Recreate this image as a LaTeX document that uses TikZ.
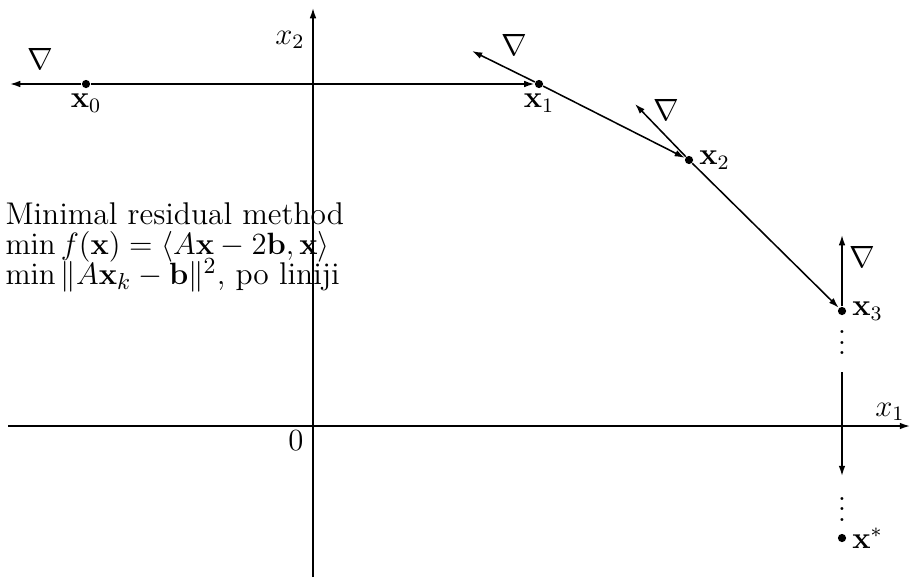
\documentclass[tikz,border=0pt]{standalone}
\usepackage{tikz}
\usepackage{amsmath}
\usepackage{amssymb}
\usetikzlibrary{arrows.meta, positioning}
\newcommand{\mrmfont}{\fontsize{12.25}{11.7}\selectfont\lineskiplimit=-5pt\relax}

\begin{document}
\begin{tikzpicture}[x=0.39pt, y=-0.39pt, font=\large,
    pnt/.style={circle, fill, inner sep=0pt, minimum size=3.2pt},
    lbl/.style={inner sep=1pt},
    vec/.style={-{Latex[length=4pt, width=2.6pt]}, line width=0.6pt}]
  \useasboundingbox (0,0) rectangle (911,577);

  % Axes
  \coordinate (ax1l) at (8,426);
  \coordinate (ax1r) at (910,426);
  \coordinate (ax2b) at (313,577);
  \coordinate (ax2t) at (313,8);
  \draw[vec] (ax1l) -- (ax1r);
  \draw[vec] (ax2b) -- (ax2t);
  \node (x1lab) at (890,412) {$x_1$};
  \node (x2lab) at (290,40) {$x_2$};
  \node (orig) at (296,441) {$0$};

  % Iterates
  \node[pnt] (x0) at (86,84) {};
  \node[pnt] (x1) at (539,84) {};
  \node[pnt] (x2) at (689,160) {};
  \node[pnt] (x3) at (842,311) {};
  \node[pnt] (xs) at (842,538) {};
  \node[lbl, below=1pt of x0] (x0lab) {$\mathbf{x}_0$};
  \node[lbl, below=1pt of x1] (x1lab) {$\mathbf{x}_1$};
  \node[lbl, right=1pt of x2] (x2lab) {$\mathbf{x}_2$};
  \node[lbl, right=1pt of x3] (x3lab) {$\mathbf{x}_3$};
  \node[lbl, right=1pt of xs] (xslab) {$\mathbf{x}^*$};

  % Gradients
  \coordinate (g0) at (10,84);
  \coordinate (g1) at (472,51);
  \coordinate (g2) at (635,104);
  \coordinate (g3) at (842,235);
  \draw[vec] (x0) -- (g0);
  \draw[vec] (x1) -- (g1);
  \draw[vec] (x2) -- (g2);
  \draw[vec] (x3) -- (g3);
  \node (n0) at (40,59) {$\nabla$};
  \node (n1) at (514,45) {$\nabla$};
  \node (n2) at (666,110) {$\nabla$};
  \node (n3) at (862,257) {$\nabla$};

  % Steps
  \draw[vec] (x0) -- (x1);
  \draw[vec] (x1) -- (x2);
  \draw[vec] (x2) -- (x3);
  \node[anchor=base, inner sep=0pt] (dots3) at (842,354.5) {$\vdots$};
  \coordinate (c0) at (842,372);
  \coordinate (c1) at (842,476);
  \draw[vec] (c0) -- (c1);
  \node[anchor=base, inner sep=0pt] (dotss) at (842,521) {$\vdots$};

  % Method
  \node[anchor=north west, inner sep=0pt, align=left, font=\mrmfont] (mrm) at (5,202)
        {Minimal residual method\\
         $\min f(\mathbf{x}) = \langle A\mathbf{x}-2\mathbf{b},\mathbf{x}\rangle$\\
         $\min\|A\mathbf{x}_k-\mathbf{b}\|^2$, po liniji};
\end{tikzpicture}
\end{document}
